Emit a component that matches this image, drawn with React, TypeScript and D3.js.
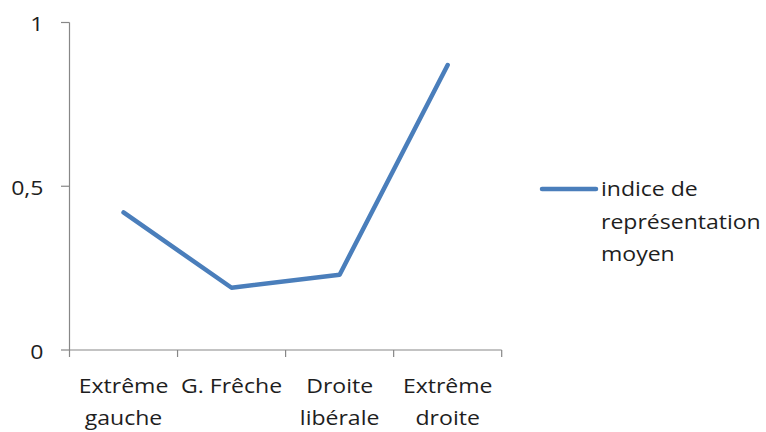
import React from "react";
import * as d3 from "d3";

const categories = [["Extrême", "gauche"], ["G. Frêche"], ["Droite", "libérale"], ["Extrême", "droite"]];
const values = [0.42, 0.19, 0.23, 0.87];
const yTicks = [0, 0.5, 1];
const yTickLabels = ["0", "0,5", "1"];
const seriesName = ["indice de", "représentation", "moyen"];

const W = 766, H = 432;
const FONT = "'Open Sans', sans-serif";
const FS = 19.2;
const SX = 1.2;
const TEXT = "#1e1e1e";
const AXIS = "#878787";
const LINE = "#4A7EBB";

function T({ x, y, anchor = "start", children }: any) {
  return (
    <text transform={`translate(${x},${y}) scale(${SX},1)`} textAnchor={anchor} fontFamily={FONT} fontSize={FS} fill={TEXT}>
      {children}
    </text>
  );
}

export default function App() {
  const x = d3.scaleBand<number>().domain(d3.range(categories.length)).range([69.5, 501.7]);
  const y = d3.scaleLinear().domain([0, 1]).range([350, 22.5]);
  const line = d3.line<number>().x((_, i) => x(i)! + x.bandwidth() / 2).y((d) => y(d));
  const edges = d3.range(categories.length + 1).map((i) => 69.5 + i * x.bandwidth());

  return (
    <svg width={W} height={H} style={{ position: "absolute", left: 0, top: 0 }}>
      <rect width={W} height={H} fill="#fff" />
      <line x1={69.5} x2={69.5} y1={y(1)} y2={y(0)} stroke={AXIS} strokeWidth={1.2} />
      {yTicks.map((t, i) => (
        <g key={i}>
          <line x1={61} x2={69.5} y1={y(t)} y2={y(t)} stroke={AXIS} strokeWidth={1.2} />
          <T x={43.5} y={y(t) + 8.5} anchor="end">{yTickLabels[i]}</T>
        </g>
      ))}
      <line x1={69.5} x2={501.7} y1={y(0)} y2={y(0)} stroke={AXIS} strokeWidth={1.2} />
      {edges.map((e, i) => (
        <line key={i} x1={e} x2={e} y1={y(0)} y2={y(0) + 7} stroke={AXIS} strokeWidth={1.2} />
      ))}
      {categories.map((c, i) => (
        <g key={i}>
          {c.map((s, j) => (
            <T key={j} x={x(i)! + x.bandwidth() / 2} y={393 + j * 32} anchor="middle">{s}</T>
          ))}
        </g>
      ))}
      <path d={line(values)!} fill="none" stroke={LINE} strokeWidth={4.5} strokeLinecap="round" strokeLinejoin="round" />
      <line x1={542} x2={596} y1={189} y2={189} stroke={LINE} strokeWidth={4.5} strokeLinecap="round" />
      {seriesName.map((s, i) => (
        <T key={i} x={601} y={196 + i * 32.5}>{s}</T>
      ))}
    </svg>
  );
}
